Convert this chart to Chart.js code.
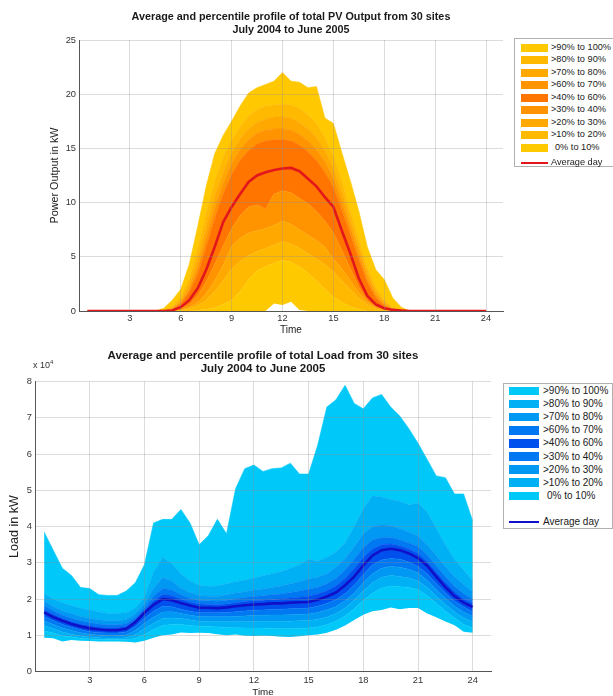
<!DOCTYPE html>
<html><head><meta charset="utf-8">
<script src="https://cdn.jsdelivr.net/npm/chart.js@4.4.1/dist/chart.umd.min.js"></script>
<style>
html,body{margin:0;padding:0;background:#fff;width:613px;height:696px;overflow:hidden;font-family:"Liberation Sans",Arial,sans-serif;}
.box{position:absolute;left:0;width:613px;}
.t{position:absolute;font-weight:bold;color:#1a1a1a;white-space:nowrap;transform:translate(-50%,-50%);line-height:1;}
.legend{position:absolute;border:1px solid #b0b0b0;background:#fff;box-sizing:border-box;}
.lt{position:absolute;white-space:nowrap;color:#1a1a1a;transform:translateY(-50%);line-height:1;}
.sw{position:absolute;}
#x104{position:absolute;left:33px;top:359px;font-size:9px;color:#333;white-space:nowrap;}
#x104 sup{font-size:6px;vertical-align:4px;}
</style></head><body>
<div class="box" style="top:0;height:340px;"><canvas id="pv"></canvas></div>
<div class="box" style="top:340px;height:370px;"><canvas id="ld"></canvas></div>
<div class="t" style="left:291px;top:15.7px;font-size:10.8px;">Average and percentile profile of total PV Output from 30 sites</div>
<div class="t" style="left:291px;top:29px;font-size:10.8px;">July 2004 to June 2005</div>
<div class="t" style="left:263px;top:355.7px;font-size:11.5px;">Average and percentile profile of total Load from 30 sites</div>
<div class="t" style="left:263px;top:369.3px;font-size:11.5px;">July 2004 to June 2005</div>
<div id="x104">x 10<sup>4</sup></div>
<div id="legPV"></div>
<div id="legLD"></div>
<script>
// ---- time axis (hours) ----
const hours = [0.5,1,1.5,2,2.5,3,3.5,4,4.5,5,5.5,6,6.5,7,7.5,8,8.5,9,9.5,10,10.5,11,11.5,12,12.5,13,13.5,14,14.5,15,15.5,16,16.5,17,17.5,18,18.5,19,19.5,20,20.5,21,21.5,22,22.5,23,23.5,24];
const xTicks = [3,6,9,12,15,18,21,24];
const bandLabels = [">90% to 100%", ">80% to 90%", ">70% to 80%", ">60% to 70%", ">40% to 60%", ">30% to 40%", ">20% to 30%", ">10% to 20%", "0% to 10%"];
const meanLabel = "Average day";

// ---- PV output (kW), percentile boundaries ----
const pvP0   = [0,0,0,0,0,0,0,0,0,0,0,0, 0,0,0,0,0,0,0,0,0,0,0.7,0.55, 0.85,0.1,0,0,0,0,0,0,0,0,0,0, 0,0,0,0,0,0,0,0,0,0,0,0];
const pvP10  = [0,0,0,0,0,0,0,0,0,0,0,0, 0,0.05,0.15,0.3,0.6,1.0,1.8,2.9,3.7,4.1,4.4,4.7, 4.5,4.1,3.5,2.8,2.0,1.3,0.8,0.4,0.15,0,0,0, 0,0,0,0,0,0,0,0,0,0,0,0];
const pvP20  = [0,0,0,0,0,0,0,0,0,0,0,0.05, 0.2,0.5,1.0,1.8,2.8,3.9,4.6,5.1,5.5,5.8,6.1,6.4, 6.2,5.8,5.3,4.8,4.3,3.6,2.8,2.0,1.2,0.6,0.2,0, 0,0,0,0,0,0,0,0,0,0,0,0];
const pvP30  = [0,0,0,0,0,0,0,0,0,0,0,0.1, 0.35,0.8,1.6,2.8,4.2,6.0,6.7,7.2,7.4,7.6,7.9,8.3, 8.0,7.5,7.0,6.5,5.9,4.8,3.9,2.8,1.7,0.8,0.3,0.05, 0,0,0,0,0,0,0,0,0,0,0,0];
const pvP40  = [0,0,0,0,0,0,0,0,0,0,0,0.2, 0.6,1.4,2.7,4.3,6.0,7.6,8.8,9.6,9.8,9.4,10.8,11.1, 10.9,10.4,9.9,9.2,8.3,7.2,5.6,3.9,2.2,1.0,0.4,0.1, 0,0,0,0,0,0,0,0,0,0,0,0];
const pvP60  = [0,0,0,0,0,0,0,0,0,0,0.15,0.65, 1.7,3.4,5.9,8.5,10.8,12.6,13.9,14.8,15.4,15.7,15.8,15.8, 15.7,15.3,14.7,13.9,12.8,11.4,9.3,7.0,4.7,2.6,1.2,0.45, 0.1,0,0,0,0,0,0,0,0,0,0,0];
const pvP70  = [0,0,0,0,0,0,0,0,0,0,0.2,0.8, 2.0,4.0,6.8,9.5,11.8,13.6,14.9,15.8,16.4,16.7,16.8,16.8, 16.7,16.3,15.7,14.9,13.8,12.3,10.1,7.7,5.3,3.0,1.5,0.6, 0.15,0,0,0,0,0,0,0,0,0,0,0];
const pvP80  = [0,0,0,0,0,0,0,0,0,0,0.3,1.0, 2.4,4.8,7.8,10.6,12.8,14.6,15.9,16.8,17.4,17.7,17.9,17.9, 17.8,17.4,16.8,16.0,14.8,13.2,11.0,8.4,5.9,3.5,1.8,0.8, 0.25,0,0,0,0,0,0,0,0,0,0,0];
const pvP90  = [0,0,0,0,0,0,0,0,0,0,0.4,1.3, 3.0,5.8,9.0,12.0,14.2,15.8,17.0,18.0,18.6,18.9,19.0,19.1, 19.0,18.7,18.1,17.3,16.0,14.3,12.0,9.2,6.6,4.0,2.2,1.0, 0.35,0.05,0,0,0,0,0,0,0,0,0,0];
const pvP100 = [0,0,0,0,0,0,0,0,0,0.25,1.0,2.0, 4.3,7.8,11.5,14.5,16.2,17.5,18.9,20.1,20.6,20.9,21.2,22.0, 21.2,21.1,20.6,20.7,17.8,17.3,14.6,12.0,9.2,5.9,3.8,2.9, 1.2,0.35,0,0,0,0,0,0,0,0,0,0];
const pvMean = [0,0,0,0,0,0,0,0,0,0,0.05,0.35, 1.0,2.1,3.8,5.9,8.2,9.6,10.8,11.9,12.5,12.8,13.0,13.15, 13.2,12.9,12.2,11.5,10.5,9.6,7.4,5.3,3.0,1.4,0.6,0.25, 0.1,0.05,0,0,0,0,0,0,0,0,0,0];
const pvYTicks = [0,5,10,15,20,25];

// ---- Load (x 10^4 kW), percentile boundaries ----
const ldP0   = [0.93,0.92,0.83,0.87,0.85,0.84,0.83,0.83,0.83,0.82,0.8,0.85, 0.93,1.0,1.02,1.08,1.06,1.07,1.06,1.03,1.0,1.02,0.99,0.98, 0.99,0.98,0.96,0.95,0.97,1.0,1.02,1.07,1.15,1.27,1.42,1.57, 1.66,1.7,1.77,1.72,1.75,1.75,1.6,1.5,1.38,1.28,1.1,1.07];
const ldP10  = [1.12,1.06,0.98,0.96,0.92,0.9,0.88,0.88,0.88,0.88,0.91,1.02, 1.16,1.27,1.3,1.3,1.27,1.25,1.24,1.23,1.21,1.21,1.2,1.2, 1.2,1.19,1.18,1.18,1.19,1.2,1.23,1.29,1.39,1.53,1.73,1.96, 2.16,2.3,2.36,2.34,2.32,2.26,2.1,1.88,1.66,1.48,1.3,1.2];
const ldP20  = [1.27,1.18,1.09,1.03,0.98,0.95,0.93,0.92,0.92,0.93,1.02,1.18, 1.33,1.46,1.48,1.46,1.42,1.39,1.38,1.38,1.37,1.37,1.37,1.38, 1.38,1.38,1.38,1.39,1.4,1.41,1.44,1.5,1.6,1.75,1.97,2.22, 2.45,2.6,2.65,2.62,2.58,2.5,2.32,2.08,1.85,1.64,1.48,1.37];
const ldP30  = [1.4,1.3,1.2,1.13,1.07,1.03,1.0,0.99,0.99,1.01,1.13,1.33, 1.5,1.64,1.65,1.6,1.55,1.52,1.51,1.51,1.51,1.52,1.53,1.55, 1.55,1.56,1.56,1.57,1.58,1.59,1.63,1.7,1.79,1.95,2.17,2.45, 2.7,2.85,2.9,2.88,2.82,2.72,2.52,2.26,2.02,1.8,1.64,1.52];
const ldP40  = [1.52,1.4,1.3,1.22,1.15,1.1,1.07,1.06,1.06,1.09,1.24,1.47, 1.66,1.8,1.79,1.72,1.66,1.62,1.62,1.62,1.63,1.65,1.67,1.69, 1.7,1.71,1.72,1.73,1.74,1.75,1.8,1.88,1.98,2.15,2.38,2.68, 2.94,3.08,3.12,3.1,3.02,2.9,2.7,2.43,2.17,1.94,1.78,1.65];
const ldP60  = [1.71,1.58,1.47,1.38,1.31,1.26,1.23,1.21,1.21,1.25,1.42,1.68, 1.95,2.13,2.1,2.0,1.92,1.86,1.85,1.84,1.86,1.9,1.93,1.95, 1.97,1.99,2.0,2.03,2.05,2.08,2.14,2.23,2.36,2.57,2.84,3.15, 3.38,3.5,3.52,3.47,3.38,3.26,3.04,2.75,2.46,2.2,2.01,1.88];
const ldP70  = [1.82,1.68,1.56,1.47,1.4,1.35,1.31,1.29,1.29,1.32,1.49,1.76, 2.08,2.3,2.25,2.12,2.02,1.96,1.95,1.94,1.97,2.01,2.04,2.07, 2.09,2.12,2.14,2.18,2.22,2.27,2.32,2.42,2.57,2.8,3.1,3.42, 3.63,3.7,3.7,3.64,3.55,3.45,3.22,2.92,2.62,2.35,2.15,2.0];
const ldP80  = [1.95,1.8,1.68,1.6,1.52,1.47,1.43,1.4,1.4,1.43,1.6,1.88, 2.3,2.6,2.5,2.3,2.18,2.1,2.08,2.08,2.12,2.17,2.2,2.25, 2.28,2.32,2.36,2.42,2.48,2.56,2.6,2.7,2.88,3.12,3.45,3.8, 4.0,4.05,4.03,3.95,3.85,3.75,3.5,3.2,2.9,2.62,2.4,2.2];
const ldP90  = [2.15,2.0,1.9,1.82,1.75,1.7,1.65,1.6,1.6,1.62,1.75,2.05, 2.75,3.15,2.98,2.7,2.5,2.38,2.35,2.36,2.42,2.48,2.52,2.58, 2.64,2.7,2.76,2.85,2.95,3.1,3.05,3.15,3.3,3.55,4.0,4.5, 4.85,4.82,4.75,4.7,4.6,4.65,4.4,3.95,3.5,3.1,2.8,2.5];
const ldP100 = [3.85,3.35,2.85,2.65,2.32,2.29,2.12,2.1,2.1,2.22,2.45,2.95, 4.1,4.2,4.2,4.47,4.1,3.5,3.75,4.2,3.8,5.05,5.6,5.7, 5.52,5.6,5.62,5.75,5.45,5.45,6.25,7.3,7.5,7.9,7.4,7.25, 7.55,7.65,7.3,7.05,6.7,6.3,5.85,5.4,5.35,4.9,4.9,4.15];
const ldMean = [1.63,1.5,1.4,1.31,1.24,1.19,1.16,1.14,1.14,1.18,1.36,1.62, 1.84,2.0,1.97,1.89,1.82,1.76,1.76,1.75,1.77,1.8,1.83,1.85, 1.86,1.88,1.88,1.9,1.91,1.92,1.98,2.07,2.18,2.38,2.62,2.93, 3.2,3.35,3.39,3.35,3.26,3.13,2.92,2.62,2.33,2.08,1.9,1.78];
const ldYTicks = [0,1,2,3,4,5,6,7,8];

// band colours, listed bottom band (0-10%) to top band (>90-100%)
const pvColors = ['#FFC900','#FFB900','#FFA800','#FF9400','#FF7500','#FF9400','#FFA800','#FFB900','#FFC800'];
const ldColors = ['#00C8F8','#00B0F4','#0098F2','#0078F2','#0050EE','#0078F2','#0098F2','#00B0F4','#00C8F8'];
const pvMeanColor = '#E3161B';
const ldMeanColor = '#1010C8';

const FONT = '"Liberation Sans", Arial, sans-serif';

function buildDatasets(bounds, colors, mean, meanColor) {
  const ds = [{
    data: hours.map((h, i) => ({x: h, y: mean[i]})),
    borderColor: meanColor, borderWidth: 2.6, pointRadius: 0, fill: false, tension: 0
  }];
  bounds.forEach((arr, k) => {
    ds.push({
      data: hours.map((h, i) => ({x: h, y: arr[i]})),
      borderColor: k === 0 ? 'rgba(0,0,0,0)' : colors[k - 1],
      borderWidth: k === 0 ? 0 : 0.6,
      backgroundColor: k === 0 ? 'rgba(0,0,0,0)' : colors[k - 1],
      pointRadius: 0, tension: 0,
      fill: k === 0 ? false : '-1'
    });
  });
  return ds;
}

function makeChart(id, cfg) {
  return new Chart(document.getElementById(id), {
    type: 'line',
    data: {datasets: buildDatasets(cfg.bounds, cfg.colors, cfg.mean, cfg.meanColor)},
    options: {
      responsive: true, maintainAspectRatio: false, animation: false,
      layout: {padding: cfg.padding},
      plugins: {legend: {display: false}, tooltip: {enabled: false}, title: {display: false}},
      scales: {
        x: {
          type: 'linear', min: 0, max: 25,
          afterBuildTicks: s => { s.ticks = [0].concat(xTicks).map(v => ({value: v})); },
          afterFit: s => { s.height = cfg.xHeight; },
          ticks: {autoSkip: false, maxRotation: 0, padding: cfg.xTickPad, color: '#333',
                  font: {family: FONT, size: 9.3}, callback: v => v === 0 ? '' : v},
          grid: {color: 'rgba(140,140,140,0.3)', drawTicks: false, z: 1},
          border: {display: true, color: '#555', width: 1, z: 2},
          title: {display: true, text: 'Time', color: '#222', font: {family: FONT, size: cfg.xTitleSize},
                  padding: {top: 0, bottom: cfg.xTitlePad}}
        },
        y: {
          min: cfg.yTicks[0], max: cfg.yTicks[cfg.yTicks.length - 1],
          afterBuildTicks: s => { s.ticks = cfg.yTicks.map(v => ({value: v})); },
          afterFit: s => { s.width = cfg.yWidth; },
          ticks: {padding: 3, color: '#333', font: {family: FONT, size: 9.3}},
          grid: {color: 'rgba(140,140,140,0.3)', drawTicks: false, z: 1},
          border: {display: true, color: '#555', width: 1, z: 2},
          title: {display: true, text: cfg.yTitle, color: '#222', font: {family: FONT, size: cfg.yTitleSize},
                  padding: {top: cfg.yTitlePad, bottom: 0}}
        }
      }
    }
  });
}

makeChart('pv', {
  bounds: [pvP0, pvP10, pvP20, pvP30, pvP40, pvP60, pvP70, pvP80, pvP90, pvP100],
  colors: pvColors, mean: pvMean, meanColor: pvMeanColor, yTicks: pvYTicks,
  padding: {left: 44, right: 110, top: 40, bottom: 0},
  yWidth: 35, xHeight: 29, xTickPad: 1.7, xTitleSize: 10, xTitlePad: 3.5,
  yTitle: 'Power Output in kW', yTitleSize: 10.8, yTitlePad: 4.5
});
makeChart('ld', {
  bounds: [ldP0, ldP10, ldP20, ldP30, ldP40, ldP60, ldP70, ldP80, ldP90, ldP100],
  colors: ldColors, mean: ldMean, meanColor: ldMeanColor, yTicks: ldYTicks,
  padding: {left: 2, right: 122, top: 41.7, bottom: 0},
  yWidth: 33, xHeight: 38.5, xTickPad: 3.6, xTitleSize: 9.8, xTitlePad: 12,
  yTitle: 'Load in kW', yTitleSize: 12.6, yTitlePad: 5
});

// ---- legends (HTML) ----
function legend(id, o) {
  const el = document.getElementById(id);
  el.className = 'legend';
  Object.assign(el.style, {left: o.left + 'px', top: o.top + 'px', width: o.w + 'px', height: o.h + 'px'});
  const colsTopDown = o.colors.slice().reverse();
  bandLabels.forEach((lab, k) => {
    const cy = o.row0 + k * o.dy - o.top;
    const sw = document.createElement('div');
    sw.className = 'sw';
    Object.assign(sw.style, {left: (o.swX - o.left) + 'px', top: (cy - o.swH / 2) + 'px', width: o.swW + 'px', height: o.swH + 'px', background: colsTopDown[k]});
    el.appendChild(sw);
    const t = document.createElement('div');
    t.className = 'lt';
    t.textContent = lab;
    Object.assign(t.style, {left: (o.txX - o.left + (lab.startsWith('>') ? 0 : o.indent)) + 'px', top: cy + 'px', fontSize: o.fs + 'px'});
    el.appendChild(t);
  });
  const cy = o.meanY - o.top;
  const ln = document.createElement('div');
  ln.className = 'sw';
  Object.assign(ln.style, {left: (o.swX - o.left) + 'px', top: (cy - 1.2) + 'px', width: o.swW + 'px', height: '2.4px', background: o.meanColor});
  el.appendChild(ln);
  const t = document.createElement('div');
  t.className = 'lt';
  t.textContent = meanLabel;
  Object.assign(t.style, {left: (o.txX - o.left) + 'px', top: cy + 'px', fontSize: o.fs + 'px'});
  el.appendChild(t);
}
legend('legPV', {left: 514, top: 38, w: 101, h: 129, colors: pvColors, meanColor: pvMeanColor,
  row0: 46.5, dy: 12.55, swX: 520, swW: 27, swH: 8, txX: 550, indent: 4, fs: 9.2, meanY: 161.7});
legend('legLD', {left: 503, top: 383, w: 110, h: 146, colors: ldColors, meanColor: ldMeanColor,
  row0: 390, dy: 13.1, swX: 508, swW: 30, swH: 8.5, txX: 542, indent: 4, fs: 10, meanY: 520.7});
</script>
</body></html>
